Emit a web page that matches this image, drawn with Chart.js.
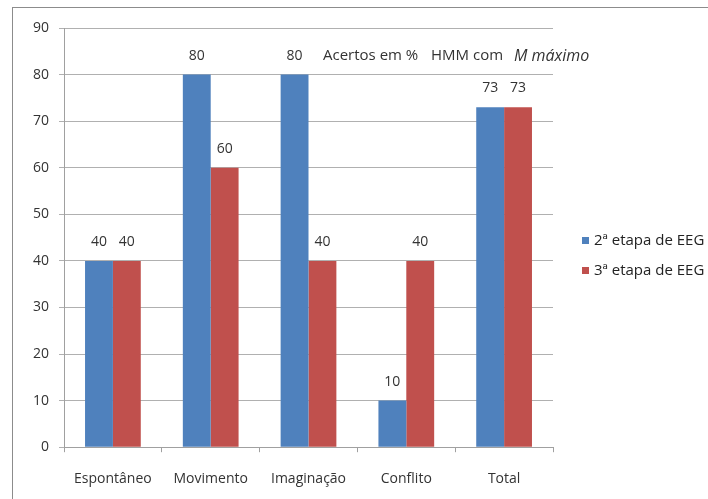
<!DOCTYPE html>
<html>
<head>
<meta charset="utf-8">
<script src="https://cdn.jsdelivr.net/npm/chart.js@4"></script>
<style>
  html, body { margin: 0; padding: 0; background: #fff; }
  #wrap { position: relative; width: 708px; height: 499px; overflow: hidden; }
  #frame { position: absolute; left: 12px; top: 7px; width: 700px; height: 500px;
           border-left: 1px solid #8c8c8c; border-top: 1px solid #8c8c8c; }
  canvas { position: absolute; left: 0; top: 0; }
</style>
</head>
<body>
<div id="wrap">
  <div id="frame"></div>
  <canvas id="chart" width="708" height="512"></canvas>
</div>
<script>
const categories = ['Espontâneo', 'Movimento', 'Imaginação', 'Conflito', 'Total'];
const etapa2 = [40, 80, 80, 10, 73];
const etapa3 = [40, 60, 40, 40, 73];
const seriesNames = ['2ª etapa de EEG', '3ª etapa de EEG'];
const colors = ['#4F81BD', '#C0504D'];

const FONT = '"Open Sans", "Noto Sans", sans-serif';

// value labels above bars + annotation + legend
const extras = {
  id: 'extras',
  afterDatasetsDraw(chart) {
    const ctx = chart.ctx;
    ctx.save();
    ctx.font = '14px ' + FONT;
    ctx.fillStyle = '#333';
    ctx.textAlign = 'center';
    ctx.textBaseline = 'middle';
    chart.data.datasets.forEach((ds, i) => {
      chart.getDatasetMeta(i).data.forEach((bar, j) => {
        ctx.fillText(ds.data[j], bar.x, bar.y - 19);
      });
    });

    // note inside the plot
    ctx.textAlign = 'left';
    ctx.font = '15px ' + FONT;
    ctx.fillText('Acertos em %', 323, 56);
    ctx.fillText('HMM', 431, 56);
    ctx.fillText('com', 473, 56);
    ctx.font = 'italic 16px ' + FONT;
    ctx.fillText('M máximo', 514, 56);

    // legend
    ctx.font = '15px ' + FONT;
    seriesNames.forEach((name, i) => {
      const y = 241 + i * 30;
      ctx.fillStyle = colors[i];
      ctx.fillRect(582, y - 4, 7, 7);
      ctx.fillStyle = '#222';
      ctx.fillText(name, 594, y);
    });
    ctx.restore();
  }
};

new Chart(document.getElementById('chart'), {
  type: 'bar',
  data: {
    labels: categories,
    datasets: [
      { label: seriesNames[0], data: etapa2, backgroundColor: colors[0] },
      { label: seriesNames[1], data: etapa3, backgroundColor: colors[1] }
    ]
  },
  options: {
    responsive: false,
    animation: false,
    layout: { padding: { left: 23, top: 28, right: 155, bottom: 7 } },
    datasets: { bar: { categoryPercentage: 0.57, barPercentage: 1.0 } },
    plugins: {
      legend: { display: false },
      tooltip: { enabled: false }
    },
    scales: {
      x: {
        grid: { offset: true, drawOnChartArea: false, drawTicks: true, tickLength: 5, color: '#a0a0a0' },
        border: { color: '#a0a0a0' },
        ticks: { font: { family: FONT, size: 14 }, color: '#333', padding: 18 }
      },
      y: {
        min: 0, max: 90,
        ticks: { stepSize: 10, font: { family: FONT, size: 14 }, color: '#333', padding: 10 },
        grid: { color: '#b0b0b0', tickLength: 5 },
        border: { color: '#a0a0a0' }
      }
    }
  },
  plugins: [extras]
});
</script>
</body>
</html>
